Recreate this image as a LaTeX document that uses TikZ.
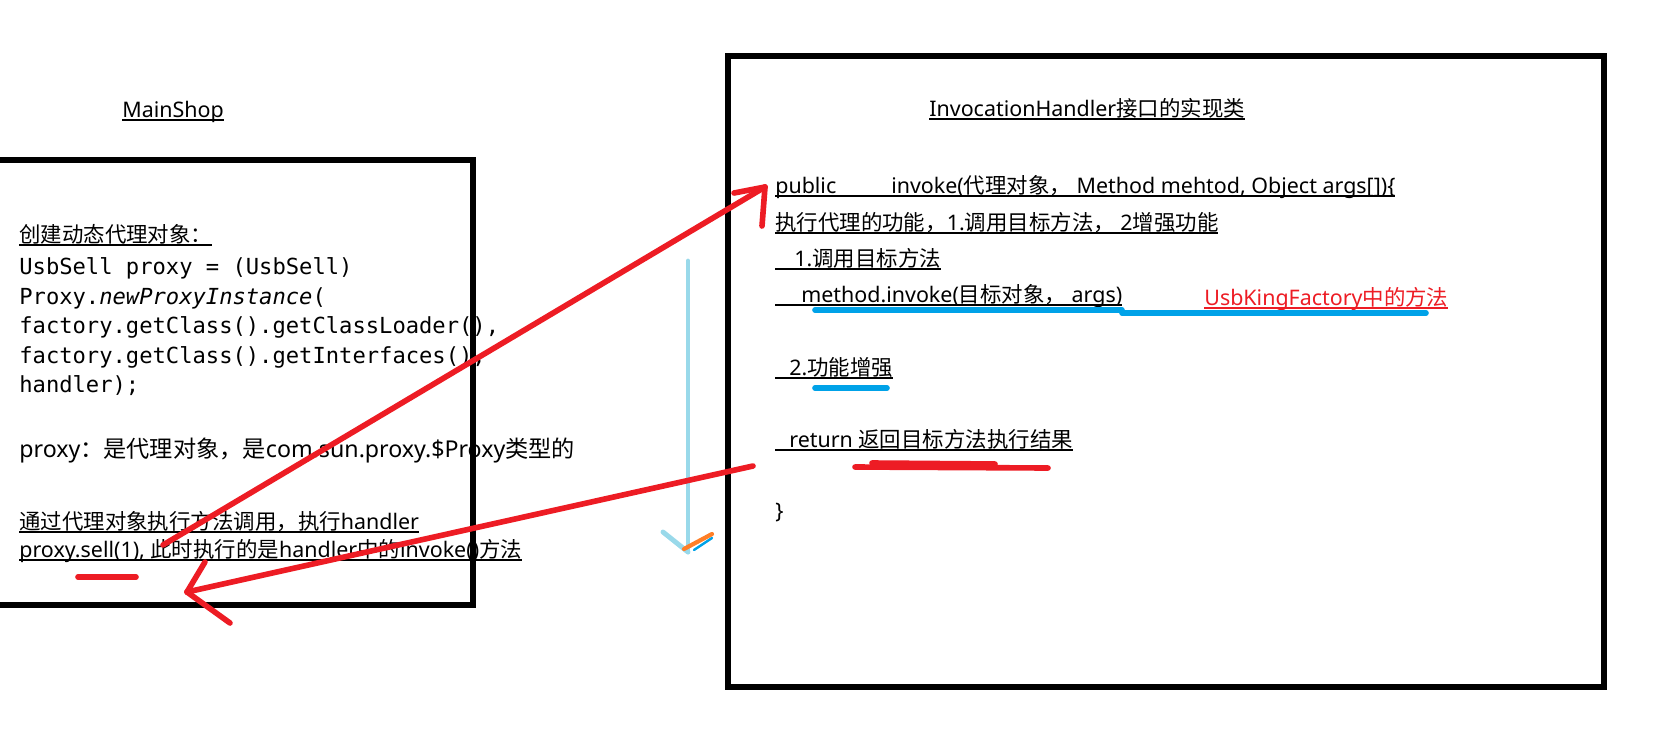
\documentclass[tikz,border=0pt]{standalone}
\usepackage{fontspec}
\setmainfont{Noto Sans}
\newfontfamily\zhfont{Noto Sans CJK SC}
\newfontfamily\codefont{DejaVu Sans Mono}
\usetikzlibrary{arrows.meta, positioning}
\definecolor{PaintRed}{RGB}{237, 28, 36}
\definecolor{PaintBlue}{RGB}{0, 162, 232}
\definecolor{SkyBlue}{RGB}{153, 217, 234}
\definecolor{PaintOrange}{RGB}{255, 127, 39}
\newcommand{\zh}[1]{{\zhfont #1}}
\newcommand{\undl}[1]{\setbox0=\hbox{#1}\rlap{\rule[-2pt]{\wd0}{0.8pt}}\box0}

\begin{document}
\begin{tikzpicture}[x=0.02cm, y=-0.02cm,
  txt/.style={font=\fontsize{12.2}{15}\selectfont, anchor=base west, inner sep=0pt},
  code/.style={font=\codefont\fontsize{12.6}{15}\selectfont, anchor=base west, inner sep=0pt},
  frame/.style={draw=black, line width=3.6pt},
  redpen/.style={draw=PaintRed, line width=3.2pt, line cap=round, line join=round},
  bluepen/.style={draw=PaintBlue, line width=3.2pt, line cap=round},
  skypen/.style={draw=SkyBlue, line width=2.8pt, line cap=round},
  orangepen/.style={draw=PaintOrange, line width=2.4pt, line cap=round}]
\useasboundingbox (0,0) rectangle (1671,738);
% MainShop side
\node[txt] (shop) at (122,117) {\undl{MainShop}};
\node[txt] (create) at (19,242) {\undl{\zh{创建动态代理对象：}}};
\node[code] (l1) at (19,274) {UsbSell proxy = (UsbSell)};
\node[code] (l2) at (19,304) {Proxy.\textit{newProxyInstance}(};
\node[code] (l3) at (19,333) {factory.getClass().getClassLoader(),};
\node[code] (l4) at (19,363) {factory.getClass().getInterfaces(),};
\node[code] (l5) at (19,392) {handler);};
\node[txt, font=\fontsize{13.2}{16}\selectfont] (kind) at (19,457) {proxy\zh{：是代理对象，是}com.sun.proxy.\$Proxy\zh{类型的}};
\node[txt] (call) at (19,529) {\undl{\zh{通过代理对象执行方法调用，执行}handler}};
\node[txt] (sell) at (19,557) {\undl{proxy.sell(1), \zh{此时执行的是}handler\zh{中的}invoke()\zh{方法}}};
% handler side
\node[txt] (impl) at (929,116) {\undl{InvocationHandler\zh{接口的实现类}}};
\node[txt] (pub) at (775,193) {\undl{public\hspace*{1.1cm}invoke(\zh{代理对象，} Method mehtod, Object args[])\{}};
\node[txt] (todo) at (775,230) {\undl{\zh{执行代理的功能，}1.\zh{调用目标方法，} 2\zh{增强功能}}};
\node[txt] (step1) at (775,266) {\undl{\hspace*{0.38cm}1.\zh{调用目标方法}}};
\node[txt] (inv) at (775,302) {\undl{\hspace*{0.52cm}method.invoke(\zh{目标对象，} args)}};
\node[txt, text=PaintRed] (king) at (1204,305) {\undl{UsbKingFactory\zh{中的方法}}};
\node[txt] (step2) at (775,375) {\undl{\hspace*{0.28cm}2.\zh{功能增强}}};
\node[txt] (ret) at (775,447) {\undl{\hspace*{0.28cm}return \zh{返回目标方法执行结果}}};
\node[txt] (close) at (775,518) {\}};
\draw[frame] (-20,160) rectangle (473,605);
\draw[frame] (728,56) rectangle (1604,687);
% marks
\draw[bluepen] (815,310) -- (1122,310);
\draw[bluepen] (1122,313) -- (1426,313);
\draw[bluepen] (815,388) -- (887,388);
\draw[redpen] (855,467) -- (1048,468);
\draw[redpen] (872,463) -- (995,464);
\draw[redpen] (78,577) -- (136,577);
% down arrow
\coordinate (dtop) at (688,261);
\coordinate (dbot) at (688,552);
\draw[skypen] (dtop) -- (dbot);
\draw[skypen] (dbot) -- +(-25,-20);
\draw[PaintBlue, line width=1.4pt, line cap=round] (694,550) -- (712,538);
\draw[orangepen] (684,549) -- (712,534);
% red arrows
\coordinate (from1) at (163,545);
\coordinate (tip1) at (765,187);
\draw[redpen] (from1) -- (tip1);
\draw[redpen] (tip1) -- +(-31,6);
\draw[redpen] (tip1) -- +(-3,39);
\coordinate (from2) at (753,466);
\coordinate (tip2) at (187,592);
\draw[redpen] (from2) -- (tip2);
\draw[redpen] (tip2) -- +(18,-30);
\draw[redpen] (tip2) -- +(43,31);
\end{tikzpicture}
\end{document}
